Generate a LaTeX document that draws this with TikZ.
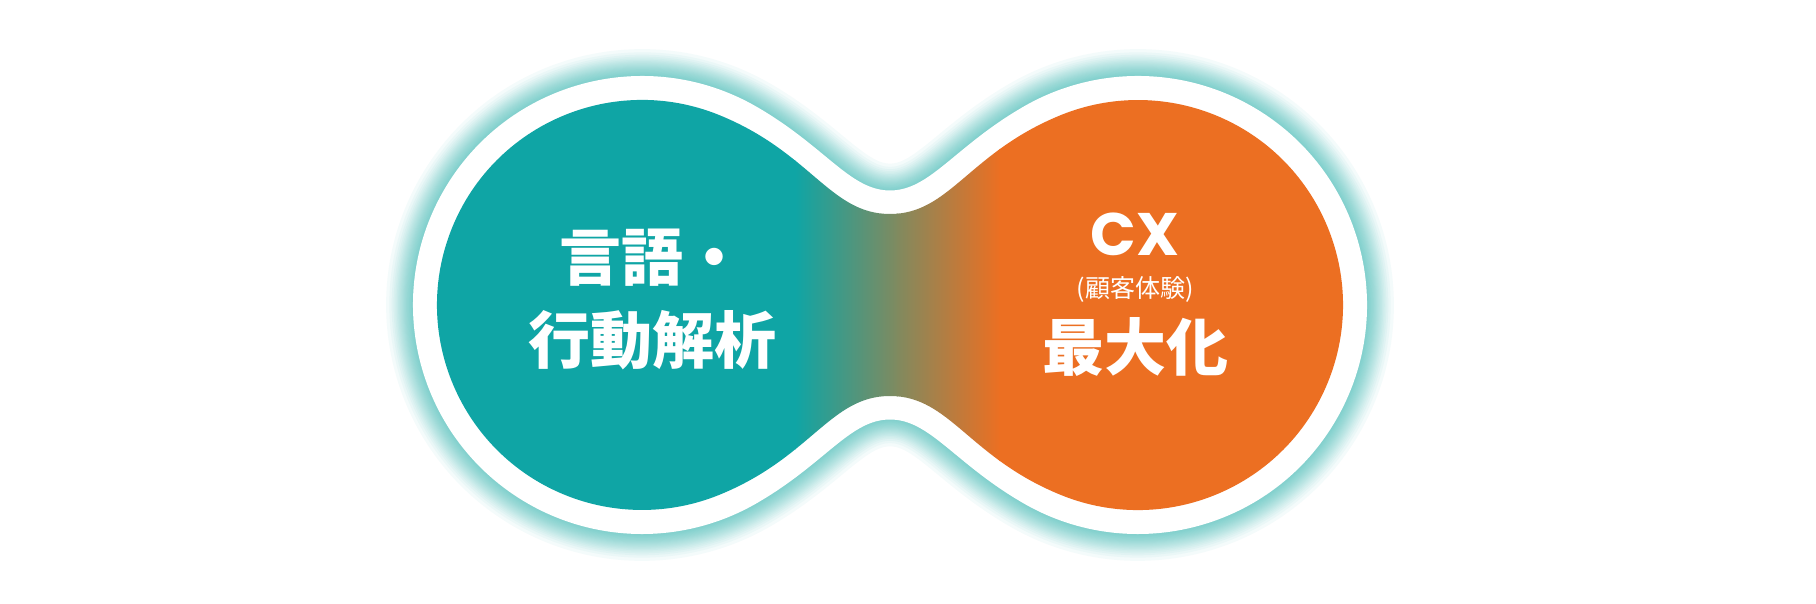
\documentclass[tikz,border=0pt]{standalone}
\usepackage{fontspec}
\newfontfamily\jpfont{Noto Sans CJK JP}
\newfontfamily\cxfont{Poppins}
\definecolor{blobteal}{RGB}{15,165,165}
\definecolor{bloborange}{RGB}{236,111,34}
\definecolor{blobmid}{RGB}{128,138,95}
\definecolor{glowteal}{RGB}{113,206,202}
% outline of the white rim
\newcommand{\outerblob}{%
  (756.5,497.3) arc[start angle=60, end angle=300, radius=229]
  .. controls (825.8,140.7) and (850,184.5) .. (890,184.5)
  .. controls (930,184.5) and (954.2,140.7) .. (1023.5,100.7)
  arc[start angle=240, end angle=480, radius=229]
  .. controls (954.2,457.3) and (930,413.5) .. (890,413.5)
  .. controls (850,413.5) and (825.8,457.3) .. (756.5,497.3) -- cycle}
% outline of the coloured body
\newcommand{\innerblob}{%
  (718.8,489.1) arc[start angle=68, end angle=292, radius=205]
  .. controls (811.5,146.5) and (830,208) .. (890,208)
  .. controls (950,208) and (968.5,146.5) .. (1061.2,108.9)
  arc[start angle=248, end angle=472, radius=205]
  .. controls (968.5,451.5) and (950,390) .. (890,390)
  .. controls (830,390) and (811.5,451.5) .. (718.8,489.1) -- cycle}
\begin{document}
\begin{tikzpicture}[x=0.5pt, y=0.5pt,
    bigjp/.style={font=\jpfont\bfseries\fontsize{31}{31}\selectfont,
      text=white, inner sep=0pt, anchor=base},
    smalljp/.style={font=\jpfont\fontsize{12.5}{12.5}\selectfont,
      text=white, inner sep=0pt, anchor=base},
    cxlabel/.style={font=\cxfont\bfseries\fontsize{30}{30}\selectfont,
      text=white, inner sep=0pt, anchor=base}]
        % canvas
        \fill[white] (0,0) rectangle (1816,604);
        \useasboundingbox (0,0) rectangle (1816,604);
        % soft glow round the rim
        \foreach \n in {1,...,24}{
          \pgfmathsetmacro\lw{36*(1-(\n/24)^0.415)+0.5}
          \draw[glowteal, opacity=0.075, line width=\lw pt] \outerblob;
        }
        % white rim
        \fill[white] \outerblob;
        % coloured body, teal to orange through the neck
        \begin{scope}
          \clip \innerblob;
          \fill[blobteal]   (400,0) rectangle (796,604);
          \shade[left color=blobteal, right color=blobmid]   (795,0) rectangle (898,604);
          \shade[left color=blobmid,  right color=bloborange] (897,0) rectangle (1000,604);
          \fill[bloborange] (999,0) rectangle (1400,604);
        \end{scope}
        % left label
        \node[bigjp]   (lang)   at ( 652, 323) {言語・};
        \node[bigjp]   (behav)  at ( 652, 240) {行動解析};
        % right label
        \node[cxlabel] (cx)     at (1135, 348) {CX};
        \node[smalljp] (cxsub)  at (1135, 306) {(顧客体験)};
        \node[bigjp]   (maxim)  at (1135, 233) {最大化};
      \end{tikzpicture}
\end{document}
